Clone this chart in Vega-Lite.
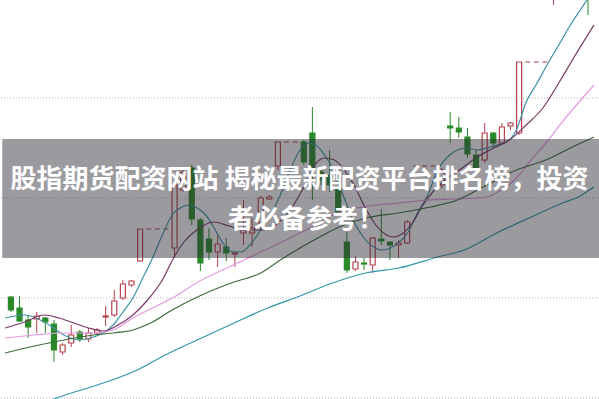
{
  "$schema": "https://vega.github.io/schema/vega-lite/v6.json",
  "width": 599,
  "height": 399,
  "autosize": "none",
  "padding": 0,
  "background": "white",
  "config": {"view": {"stroke": null}},
  "datasets": {
    "grid": [{"p": 6}, {"p": 7}, {"p": 8}, {"p": 9}],
    "candles": [
      {"i":0,"o":7.01,"c":6.88,"h":7.02,"l":6.86,"d":"down"},
      {"i":1,"o":6.90,"c":6.77,"h":7.02,"l":6.76,"d":"down"},
      {"i":2,"o":6.78,"c":6.71,"h":6.83,"l":6.60,"d":"down"},
      {"i":3,"o":6.79,"c":6.82,"h":6.86,"l":6.65,"d":"up"},
      {"i":4,"o":6.80,"c":6.76,"h":6.81,"l":6.65,"d":"down"},
      {"i":5,"o":6.74,"c":6.48,"h":6.78,"l":6.36,"d":"down"},
      {"i":6,"o":6.46,"c":6.53,"h":6.55,"l":6.43,"d":"up"},
      {"i":7,"o":6.55,"c":6.63,"h":6.73,"l":6.51,"d":"up"},
      {"i":8,"o":6.66,"c":6.59,"h":6.68,"l":6.56,"d":"down"},
      {"i":9,"o":6.59,"c":6.65,"h":6.70,"l":6.56,"d":"up"},
      {"i":10,"o":6.65,"c":6.68,"h":6.70,"l":6.63,"d":"up"},
      {"i":11,"o":6.81,"c":6.82,"h":6.92,"l":6.72,"d":"up"},
      {"i":12,"o":6.83,"c":6.97,"h":7.08,"l":6.81,"d":"up"},
      {"i":13,"o":7.00,"c":7.14,"h":7.18,"l":6.98,"d":"up"},
      {"i":14,"o":7.13,"c":7.17,"h":7.18,"l":7.11,"d":"up"},
      {"i":15,"o":7.37,"c":7.69,"h":7.69,"l":7.36,"d":"up"},
      {"i":16,"o":7.69,"c":7.69,"h":7.69,"l":7.69,"d":"up"},
      {"i":17,"o":7.69,"c":7.69,"h":7.69,"l":7.69,"d":"up"},
      {"i":18,"o":7.69,"c":7.69,"h":7.69,"l":7.69,"d":"up"},
      {"i":19,"o":7.50,"c":8.13,"h":8.18,"l":7.40,"d":"up"},
      {"i":20,"o":8.08,"c":8.26,"h":8.30,"l":8.06,"d":"up"},
      {"i":21,"o":8.30,"c":7.79,"h":8.33,"l":7.73,"d":"down"},
      {"i":22,"o":7.78,"c":7.35,"h":7.80,"l":7.27,"d":"down"},
      {"i":23,"o":7.59,"c":7.46,"h":7.70,"l":7.38,"d":"down"},
      {"i":24,"o":7.46,"c":7.54,"h":7.63,"l":7.31,"d":"up"},
      {"i":25,"o":7.51,"c":7.45,"h":7.60,"l":7.37,"d":"down"},
      {"i":26,"o":7.44,"c":7.45,"h":7.47,"l":7.31,"d":"up"},
      {"i":27,"o":7.65,"c":7.69,"h":7.98,"l":7.53,"d":"up"},
      {"i":28,"o":7.65,"c":7.70,"h":7.80,"l":7.51,"d":"up"},
      {"i":29,"o":7.75,"c":8.00,"h":8.02,"l":7.69,"d":"up"},
      {"i":30,"o":7.99,"c":8.01,"h":8.03,"l":7.98,"d":"up"},
      {"i":31,"o":8.32,"c":8.56,"h":8.56,"l":8.28,"d":"up"},
      {"i":32,"o":8.56,"c":8.56,"h":8.56,"l":8.56,"d":"up"},
      {"i":33,"o":8.56,"c":8.56,"h":8.56,"l":8.56,"d":"up"},
      {"i":34,"o":8.56,"c":8.36,"h":8.58,"l":8.33,"d":"down"},
      {"i":35,"o":8.65,"c":8.30,"h":8.91,"l":7.98,"d":"down"},
      {"i":36,"o":8.26,"c":8.18,"h":8.28,"l":8.13,"d":"down"},
      {"i":37,"o":8.23,"c":8.13,"h":8.48,"l":8.06,"d":"down"},
      {"i":38,"o":8.10,"c":7.86,"h":8.23,"l":7.85,"d":"down"},
      {"i":39,"o":7.56,"c":7.28,"h":7.66,"l":7.25,"d":"down"},
      {"i":40,"o":7.29,"c":7.36,"h":7.42,"l":7.27,"d":"up"},
      {"i":41,"o":7.35,"c":7.34,"h":7.40,"l":7.28,"d":"down"},
      {"i":42,"o":7.33,"c":7.60,"h":7.61,"l":7.25,"d":"up"},
      {"i":43,"o":7.59,"c":7.57,"h":7.89,"l":7.53,"d":"down"},
      {"i":44,"o":7.56,"c":7.53,"h":7.56,"l":7.38,"d":"down"},
      {"i":45,"o":7.53,"c":7.55,"h":7.58,"l":7.40,"d":"up"},
      {"i":46,"o":7.55,"c":7.76,"h":7.78,"l":7.54,"d":"up"},
      {"i":47,"o":8.32,"c":8.32,"h":8.32,"l":8.32,"d":"up"},
      {"i":48,"o":8.32,"c":8.32,"h":8.32,"l":8.32,"d":"up"},
      {"i":49,"o":8.32,"c":8.32,"h":8.32,"l":8.32,"d":"up"},
      {"i":50,"o":8.13,"c":8.28,"h":8.30,"l":8.10,"d":"up"},
      {"i":51,"o":8.72,"c":8.70,"h":8.86,"l":8.55,"d":"down"},
      {"i":52,"o":8.70,"c":8.66,"h":8.81,"l":8.60,"d":"down"},
      {"i":53,"o":8.61,"c":8.44,"h":8.70,"l":8.40,"d":"down"},
      {"i":54,"o":8.43,"c":8.30,"h":8.48,"l":8.26,"d":"down"},
      {"i":55,"o":8.38,"c":8.65,"h":8.75,"l":8.35,"d":"up"},
      {"i":56,"o":8.65,"c":8.55,"h":8.66,"l":8.50,"d":"down"},
      {"i":57,"o":8.55,"c":8.71,"h":8.75,"l":8.53,"d":"up"},
      {"i":58,"o":8.72,"c":8.75,"h":8.76,"l":8.68,"d":"up"},
      {"i":59,"o":8.65,"c":9.36,"h":9.36,"l":8.63,"d":"up"},
      {"i":60,"o":9.36,"c":9.36,"h":9.36,"l":9.36,"d":"up"},
      {"i":61,"o":9.36,"c":9.36,"h":9.36,"l":9.36,"d":"up"},
      {"i":62,"o":9.36,"c":9.36,"h":9.36,"l":9.36,"d":"up"},
      {"i":63,"o":10.13,"c":10.48,"h":10.58,"l":9.93,"d":"up"},
      {"i":64,"o":10.48,"c":10.78,"h":10.88,"l":10.43,"d":"up"},
      {"i":65,"o":10.88,"c":10.68,"h":10.98,"l":10.58,"d":"down"},
      {"i":66,"o":10.68,"c":10.98,"h":11.08,"l":10.63,"d":"up"},
      {"i":67,"o":10.98,"c":10.28,"h":11.08,"l":9.83,"d":"down"}
    ],
    "ma": [
      {"s":"MA5","i":-0.68,"p":6.80},{"s":"MA5","i":1.60,"p":6.83},{"s":"MA5","i":3.88,"p":6.76},{"s":"MA5","i":6.16,"p":6.63},
      {"s":"MA5","i":7.88,"p":6.58},{"s":"MA5","i":9.59,"p":6.61},{"s":"MA5","i":10.73,"p":6.65},{"s":"MA5","i":11.87,"p":6.73},
      {"s":"MA5","i":13.01,"p":6.86},{"s":"MA5","i":14.16,"p":7.00},{"s":"MA5","i":15.30,"p":7.20},{"s":"MA5","i":16.44,"p":7.40},
      {"s":"MA5","i":17.58,"p":7.63},{"s":"MA5","i":18.72,"p":7.83},{"s":"MA5","i":19.86,"p":7.91},{"s":"MA5","i":20.78,"p":7.93},
      {"s":"MA5","i":21.80,"p":7.89},{"s":"MA5","i":22.72,"p":7.82},{"s":"MA5","i":23.86,"p":7.66},{"s":"MA5","i":24.77,"p":7.53},
      {"s":"MA5","i":25.80,"p":7.46},{"s":"MA5","i":26.71,"p":7.46},{"s":"MA5","i":27.85,"p":7.54},{"s":"MA5","i":29.00,"p":7.68},
      {"s":"MA5","i":30.14,"p":7.83},{"s":"MA5","i":31.28,"p":8.03},{"s":"MA5","i":32.42,"p":8.28},{"s":"MA5","i":33.56,"p":8.48},
      {"s":"MA5","i":34.47,"p":8.55},{"s":"MA5","i":35.39,"p":8.53},{"s":"MA5","i":36.42,"p":8.43},{"s":"MA5","i":37.56,"p":8.26},
      {"s":"MA5","i":38.70,"p":8.00},{"s":"MA5","i":39.84,"p":7.76},{"s":"MA5","i":40.98,"p":7.60},{"s":"MA5","i":42.12,"p":7.51},
      {"s":"MA5","i":43.04,"p":7.48},{"s":"MA5","i":44.06,"p":7.50},{"s":"MA5","i":44.98,"p":7.55},{"s":"MA5","i":46.12,"p":7.66},
      {"s":"MA5","i":47.26,"p":7.86},{"s":"MA5","i":48.40,"p":8.03},{"s":"MA5","i":49.54,"p":8.28},{"s":"MA5","i":50.68,"p":8.41},
      {"s":"MA5","i":51.83,"p":8.48},{"s":"MA5","i":52.97,"p":8.50},{"s":"MA5","i":54.11,"p":8.48},{"s":"MA5","i":55.25,"p":8.50},
      {"s":"MA5","i":56.39,"p":8.53},{"s":"MA5","i":57.53,"p":8.56},{"s":"MA5","i":58.68,"p":8.68},{"s":"MA5","i":59.82,"p":8.96},
      {"s":"MA5","i":60.96,"p":9.13},{"s":"MA5","i":62.44,"p":9.36},{"s":"MA5","i":63.81,"p":9.56},{"s":"MA5","i":64.95,"p":9.73},
      {"s":"MA5","i":66.10,"p":9.88},{"s":"MA5","i":67.69,"p":10.08},

      {"s":"MA10","i":-0.68,"p":6.70},{"s":"MA10","i":1.60,"p":6.76},{"s":"MA10","i":3.88,"p":6.83},{"s":"MA10","i":5.59,"p":6.80},
      {"s":"MA10","i":7.31,"p":6.75},{"s":"MA10","i":9.02,"p":6.70},{"s":"MA10","i":10.73,"p":6.67},{"s":"MA10","i":12.44,"p":6.73},
      {"s":"MA10","i":14.16,"p":6.83},{"s":"MA10","i":15.87,"p":6.98},{"s":"MA10","i":17.58,"p":7.18},{"s":"MA10","i":18.95,"p":7.41},
      {"s":"MA10","i":20.09,"p":7.56},{"s":"MA10","i":21.58,"p":7.68},{"s":"MA10","i":23.52,"p":7.76},{"s":"MA10","i":25.34,"p":7.72},
      {"s":"MA10","i":27.28,"p":7.68},{"s":"MA10","i":29.00,"p":7.68},{"s":"MA10","i":30.71,"p":7.73},{"s":"MA10","i":32.42,"p":7.88},
      {"s":"MA10","i":34.13,"p":8.13},{"s":"MA10","i":35.27,"p":8.33},{"s":"MA10","i":36.42,"p":8.40},{"s":"MA10","i":37.56,"p":8.38},
      {"s":"MA10","i":38.70,"p":8.28},{"s":"MA10","i":39.84,"p":8.13},{"s":"MA10","i":40.98,"p":7.93},{"s":"MA10","i":42.12,"p":7.76},
      {"s":"MA10","i":43.26,"p":7.65},{"s":"MA10","i":44.41,"p":7.61},{"s":"MA10","i":45.55,"p":7.65},{"s":"MA10","i":46.69,"p":7.76},
      {"s":"MA10","i":47.83,"p":7.93},{"s":"MA10","i":48.97,"p":8.06},{"s":"MA10","i":50.68,"p":8.20},{"s":"MA10","i":52.40,"p":8.30},
      {"s":"MA10","i":54.11,"p":8.41},{"s":"MA10","i":56.05,"p":8.50},{"s":"MA10","i":57.88,"p":8.58},{"s":"MA10","i":59.82,"p":8.73},
      {"s":"MA10","i":61.76,"p":8.90},{"s":"MA10","i":63.81,"p":9.18},{"s":"MA10","i":65.53,"p":9.43},{"s":"MA10","i":67.69,"p":9.73},

      {"s":"MA20","i":-0.68,"p":6.60},{"s":"MA20","i":2.74,"p":6.63},{"s":"MA20","i":6.16,"p":6.65},{"s":"MA20","i":9.59,"p":6.65},
      {"s":"MA20","i":11.87,"p":6.68},{"s":"MA20","i":14.16,"p":6.80},{"s":"MA20","i":16.44,"p":6.90},{"s":"MA20","i":18.72,"p":7.00},
      {"s":"MA20","i":22.15,"p":7.18},{"s":"MA20","i":25.57,"p":7.32},{"s":"MA20","i":29.00,"p":7.46},{"s":"MA20","i":32.42,"p":7.60},
      {"s":"MA20","i":34.70,"p":7.70},{"s":"MA20","i":38.13,"p":7.86},{"s":"MA20","i":41.55,"p":7.92},{"s":"MA20","i":44.98,"p":7.95},
      {"s":"MA20","i":48.40,"p":7.98},{"s":"MA20","i":51.83,"p":7.99},{"s":"MA20","i":55.25,"p":8.01},{"s":"MA20","i":56.96,"p":8.08},
      {"s":"MA20","i":58.68,"p":8.20},{"s":"MA20","i":60.39,"p":8.38},{"s":"MA20","i":62.10,"p":8.55},{"s":"MA20","i":64.38,"p":8.80},
      {"s":"MA20","i":67.69,"p":9.13},

      {"s":"MA30","i":-0.68,"p":6.45},{"s":"MA30","i":2.74,"p":6.52},{"s":"MA30","i":6.16,"p":6.58},{"s":"MA30","i":9.59,"p":6.63},
      {"s":"MA30","i":11.87,"p":6.65},{"s":"MA30","i":14.16,"p":6.68},{"s":"MA30","i":16.44,"p":6.76},{"s":"MA30","i":18.72,"p":6.88},
      {"s":"MA30","i":22.15,"p":7.03},{"s":"MA30","i":25.57,"p":7.15},{"s":"MA30","i":29.00,"p":7.25},{"s":"MA30","i":31.28,"p":7.38},
      {"s":"MA30","i":33.56,"p":7.50},{"s":"MA30","i":35.84,"p":7.61},{"s":"MA30","i":38.13,"p":7.71},{"s":"MA30","i":41.21,"p":7.80},
      {"s":"MA30","i":44.98,"p":7.85},{"s":"MA30","i":48.74,"p":7.91},{"s":"MA30","i":51.83,"p":7.98},{"s":"MA30","i":55.25,"p":8.13},
      {"s":"MA30","i":58.68,"p":8.28},{"s":"MA30","i":62.10,"p":8.38},{"s":"MA30","i":64.95,"p":8.50},{"s":"MA30","i":67.69,"p":8.61},

      {"s":"MA60","i":3.88,"p":5.95},{"s":"MA60","i":5.02,"p":5.99},{"s":"MA60","i":10.73,"p":6.15},{"s":"MA60","i":14.16,"p":6.26},
      {"s":"MA60","i":18.38,"p":6.45},{"s":"MA60","i":22.15,"p":6.60},{"s":"MA60","i":25.91,"p":6.75},{"s":"MA60","i":29.79,"p":6.90},
      {"s":"MA60","i":33.56,"p":7.02},{"s":"MA60","i":37.33,"p":7.15},{"s":"MA60","i":41.21,"p":7.25},{"s":"MA60","i":44.98,"p":7.30},
      {"s":"MA60","i":49.54,"p":7.41},{"s":"MA60","i":52.63,"p":7.48},{"s":"MA60","i":56.39,"p":7.65},{"s":"MA60","i":60.16,"p":7.80},
      {"s":"MA60","i":64.04,"p":7.95},{"s":"MA60","i":65.87,"p":8.01},{"s":"MA60","i":67.69,"p":8.11}
    ],
    "banner": [{"a": -1, "b": 69, "top": 8.59, "bot": 7.40}],
    "caption": [
      {"t": "股指期货配资网站 揭秘最新配资平台排名榜，投资", "x": 33.5, "y": 8.18},
      {"t": "者必备参考！", "x": 34.25, "y": 7.78}
    ]
  },
  "encoding": {
    "x": {"type": "quantitative", "scale": {"domain": [-0.685, 67.694], "nice": false, "zero": false}, "axis": null},
    "y": {"type": "quantitative", "scale": {"domain": [5.99, 9.98], "nice": false, "zero": false}, "axis": null}
  },
  "layer": [
    {
      "data": {"name": "grid"},
      "mark": {"type": "rule", "stroke": "#b4b4b4", "strokeWidth": 1, "strokeDash": [1, 2]},
      "encoding": {"y": {"field": "p", "type": "quantitative"}, "x": null}
    },
    {
      "data": {"name": "candles"},
      "mark": {"type": "rule", "strokeWidth": 1, "clip": true},
      "encoding": {
        "x": {"field": "i"},
        "y": {"field": "l"},
        "y2": {"field": "h"},
        "stroke": {"field": "d", "type": "nominal", "scale": {"domain": ["up", "down"], "range": ["#b8414d", "#2a8a2a"]}, "legend": null}
      }
    },
    {
      "data": {"name": "candles"},
      "mark": {"type": "bar", "width": 5, "strokeWidth": 1.2, "clip": true},
      "encoding": {
        "x": {"field": "i"},
        "y": {"field": "o"},
        "y2": {"field": "c"},
        "fill": {"field": "d", "type": "nominal", "scale": {"domain": ["up", "down"], "range": ["#ffffff", "#2a8a2a"]}, "legend": null},
        "stroke": {"field": "d", "type": "nominal", "scale": {"domain": ["up", "down"], "range": ["#b8414d", "#2a8a2a"]}, "legend": null}
      }
    },
    {
      "data": {"name": "ma"},
      "mark": {"type": "line", "strokeWidth": 1.2, "clip": true, "interpolate": "monotone"},
      "encoding": {
        "x": {"field": "i"},
        "y": {"field": "p"},
        "color": {"field": "s", "type": "nominal", "scale": {"domain": ["MA5", "MA10", "MA20", "MA30", "MA60"], "range": ["#3f92a6", "#7a3a66", "#e49ae0", "#3c6e3c", "#2f98a8"]}, "legend": null}
      }
    },
    {
      "data": {"name": "banner"},
      "mark": {"type": "rect", "fill": "#2b2b33", "opacity": 0.47, "clip": true},
      "encoding": {
        "x": {"field": "a"},
        "x2": {"field": "b"},
        "y": {"field": "top"},
        "y2": {"field": "bot"}
      }
    },
    {
      "data": {"name": "caption"},
      "mark": {"type": "text", "fill": "#ffffff", "font": "Noto Sans CJK SC", "fontWeight": "bold", "fontSize": 26, "align": "center", "baseline": "middle"},
      "encoding": {
        "x": {"field": "x"},
        "y": {"field": "y"},
        "text": {"field": "t", "type": "nominal"}
      }
    }
  ],
  "resolve": {"scale": {"color": "independent", "stroke": "independent", "fill": "independent"}}
}
